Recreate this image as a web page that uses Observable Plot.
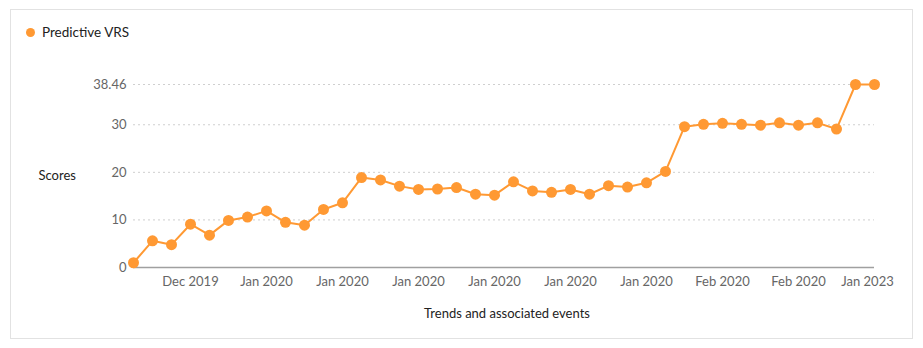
<!DOCTYPE html>
<html><head><meta charset="utf-8">
<script src="https://cdn.jsdelivr.net/npm/d3@7"></script>
<script src="https://cdn.jsdelivr.net/npm/@observablehq/plot@0.6"></script>
<style>
body{margin:0;background:#fff;font-family:Lato,"Noto Sans",sans-serif;}
#wrap{position:relative;width:923px;height:348px;overflow:hidden;background:#fff;}
#card{position:absolute;left:10px;top:9px;width:903px;height:330px;border:1px solid #e2e2e2;box-sizing:border-box;}
#legend{position:absolute;left:26px;top:24px;font-size:13.5px;color:#222;display:flex;align-items:center;}
#legend span.sw{display:inline-block;width:9px;height:9px;border-radius:50%;background:#ff9933;margin-right:7px;}
#chart{position:absolute;left:0;top:0;}
</style></head>
<body>
<div id="wrap">
  <div id="card"></div>
  <div id="legend"><span class="sw"></span><span id="legendText"></span></div>
  <div id="chart"></div>
</div>
<script>
const seriesName = "Predictive VRS";
const values = [1.0, 5.6, 4.8, 9.1, 6.8, 9.9, 10.6, 11.9, 9.5, 8.9,
  12.2, 13.6, 18.9, 18.4, 17.1, 16.4, 16.5, 16.8, 15.4, 15.2,
  18.0, 16.1, 15.8, 16.4, 15.4, 17.2, 16.9, 17.8, 20.2, 29.6,
  30.1, 30.3, 30.1, 29.9, 30.4, 29.9, 30.4, 29.1, 38.46, 38.46];
const xTickIndex = [3, 7, 11, 15, 19, 23, 27, 31, 35, 39];
const xTickLabels = ["Dec 2019", "Jan 2020", "Jan 2020", "Jan 2020", "Jan 2020", "Jan 2020", "Jan 2020", "Feb 2020", "Feb 2020", "Jan 2023"];
const yTicks = [0, 10, 20, 30, 38.46];
const yLabel = "Scores";
const xLabel = "Trends and associated events";

document.getElementById("legendText").textContent = seriesName;
const data = values.map((v, i) => ({i, v}));
const labelMap = new Map(xTickIndex.map((d, k) => [d, xTickLabels[k]]));
const lastTick = xTickIndex[xTickIndex.length - 1];
const orange = "#ff9933";
const tickStyle = {tickSize: 0, tickPadding: 9, label: null, fill: "#666", fontSize: 13, tickFormat: d => labelMap.get(d)};

const chart = Plot.plot({
  width: 923, height: 348,
  marginTop: 84, marginBottom: 81, marginLeft: 133, marginRight: 49,
  style: {fontFamily: "Lato, 'Noto Sans', sans-serif", fontSize: "13px", background: "transparent"},
  x: {type: "linear", domain: [0, values.length - 1]},
  y: {domain: [0, 38.46]},
  marks: [
    Plot.gridY(yTicks.filter(d => d > 0), {stroke: "#cfcfcf", strokeOpacity: 1, strokeDasharray: "2,3"}),
    Plot.ruleY([0], {stroke: "#a0a0a0", strokeWidth: 1.5}),
    Plot.axisY(yTicks, {tickSize: 0, tickPadding: 7, label: null, fill: "#666", fontSize: 13, tickFormat: d => String(d)}),
    Plot.axisX(xTickIndex.filter(d => d !== lastTick), tickStyle),
    Plot.axisX([lastTick], {...tickStyle, dx: -7}),
    Plot.line(data, {x: "i", y: "v", stroke: orange, strokeWidth: 2}),
    Plot.dot(data, {x: "i", y: "v", fill: orange, r: 5.5}),
    Plot.text([yLabel], {frameAnchor: "left", dx: -95, textAnchor: "start", fill: "#222", fontSize: 13}),
    Plot.text([xLabel], {frameAnchor: "bottom", dy: 50, dx: 3, fill: "#222", fontSize: 13})
  ]
});
document.getElementById("chart").appendChild(chart);
</script>
</body></html>
